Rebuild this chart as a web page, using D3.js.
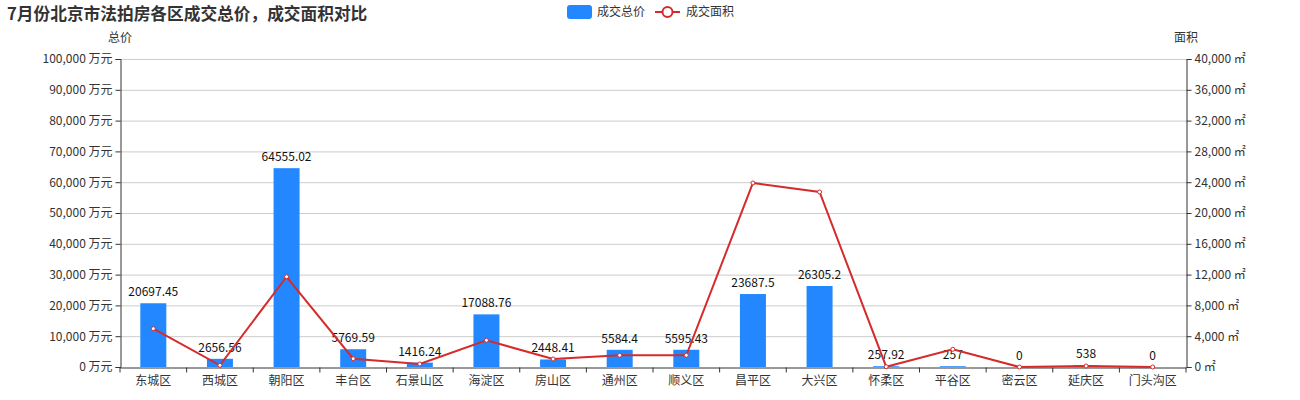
<!DOCTYPE html>
<html><head><meta charset="utf-8">
<script src="https://cdn.jsdelivr.net/npm/d3@7/dist/d3.min.js"></script>
<style>body{margin:0;background:#fff}svg{font-family:"Noto Sans CJK SC","Noto Sans",sans-serif}</style>
</head><body><svg id="c" width="1300" height="400"></svg>
<script>
const categories=["东城区","西城区","朝阳区","丰台区","石景山区","海淀区","房山区","通州区","顺义区","昌平区","大兴区","怀柔区","平谷区","密云区","延庆区","门头沟区"];
const totalPrice=[20697.45,2656.56,64555.02,5769.59,1416.24,17088.76,2448.41,5584.4,5595.43,23687.5,26305.2,257.92,257,0,538,0];
const area=[4980,220,11720,1080,390,3470,1040,1520,1520,23900,22730,40,2300,0,130,0];
const leftTicks=[0,10000,20000,30000,40000,50000,60000,70000,80000,90000,100000];
const rightTicks=[0,4000,8000,12000,16000,20000,24000,28000,32000,36000,40000];

const svg=d3.select("#c");
const L=120,R=1186,T=59,B=367;
const x=d3.scaleBand().domain(categories).range([L,R]).paddingInner(0).paddingOuter(0);
const yL=d3.scaleLinear().domain([0,100000]).range([B,T]);
const yR=d3.scaleLinear().domain([0,40000]).range([B,T]);
const fmt=d3.format(",");

// grid
svg.append("g").selectAll("line").data(leftTicks.slice(1)).join("line")
 .attr("x1",L).attr("x2",R).attr("y1",d=>yL(d)+0.5).attr("y2",d=>yL(d)+0.5)
 .attr("stroke","#ccc").attr("stroke-width",1);

// axes
const axL=svg.append("g").attr("transform",`translate(${L+0.5},0)`)
 .call(d3.axisLeft(yL).tickValues(leftTicks).tickFormat(d=>fmt(d)+" 万元").tickSizeOuter(0).tickSize(5).tickPadding(3));
const axR=svg.append("g").attr("transform",`translate(${R+0.5},0)`)
 .call(d3.axisRight(yR).tickValues(rightTicks).tickFormat(d=>fmt(d)+" ㎡").tickSizeOuter(0).tickSize(5).tickPadding(3));
const axB=svg.append("g").attr("transform",`translate(0,${B+0.5})`)
 .call(d3.axisBottom(x).tickSize(0).tickPadding(9));
axB.selectAll(".tick line").remove();
axB.append("g").selectAll("line").data(d3.range(categories.length+1)).join("line")
 .attr("x1",i=>L+i*x.step()).attr("x2",i=>L+i*x.step()).attr("y1",0).attr("y2",5).attr("stroke","#333");
[axL,axR,axB].forEach(a=>{a.selectAll("path").attr("stroke","#333");a.selectAll(".tick line").attr("stroke","#333");
 a.selectAll("text").attr("fill","#333").style("font-size","12px").style("font-family",'"Noto Sans CJK SC",sans-serif');});

// axis titles
svg.append("text").attr("x",L).attr("y",42).attr("text-anchor","middle").attr("fill","#333").style("font-size","12px").text("总价");
svg.append("text").attr("x",R).attr("y",42).attr("text-anchor","middle").attr("fill","#333").style("font-size","12px").text("面积");

// bars
const bw=26;
svg.append("g").selectAll("rect").data(totalPrice).join("rect")
 .attr("x",(d,i)=>x(categories[i])+x.bandwidth()/2-bw/2).attr("width",bw)
 .attr("y",d=>yL(d)).attr("height",d=>B-yL(d)).attr("fill","#2388ff");
svg.append("g").selectAll("text").data(totalPrice).join("text")
 .attr("x",(d,i)=>x(categories[i])+x.bandwidth()/2).attr("y",d=>yL(d)-7)
 .attr("text-anchor","middle").attr("fill","#111").style("font-size","12px").text(d=>String(d));

// line
const line=d3.line().x((d,i)=>x(categories[i])+x.bandwidth()/2).y(d=>yR(d));
svg.append("path").datum(area).attr("d",line).attr("fill","none").attr("stroke","#d52b2b").attr("stroke-width",2);
svg.append("g").selectAll("circle").data(area).join("circle")
 .attr("cx",(d,i)=>x(categories[i])+x.bandwidth()/2).attr("cy",d=>yR(d)).attr("r",2)
 .attr("fill","#fff").attr("stroke","#d52b2b").attr("stroke-width",1);

// title
svg.append("text").attr("x",7).attr("y",20).attr("fill","#333").style("font-size","16.7px").style("font-weight","bold").text("7月份北京市法拍房各区成交总价，成交面积对比");

// legend
svg.append("rect").attr("x",567).attr("y",5).attr("width",25).attr("height",14).attr("rx",3).attr("fill","#2388ff");
svg.append("text").attr("x",597).attr("y",16).attr("fill","#333").style("font-size","12px").text("成交总价");
svg.append("line").attr("x1",655).attr("x2",680).attr("y1",12).attr("y2",12).attr("stroke","#d52b2b").attr("stroke-width",2);
svg.append("circle").attr("cx",667.5).attr("cy",12).attr("r",5).attr("fill","#fff").attr("stroke","#d52b2b").attr("stroke-width",2);
svg.append("text").attr("x",686).attr("y",16).attr("fill","#333").style("font-size","12px").text("成交面积");
</script></body></html>
